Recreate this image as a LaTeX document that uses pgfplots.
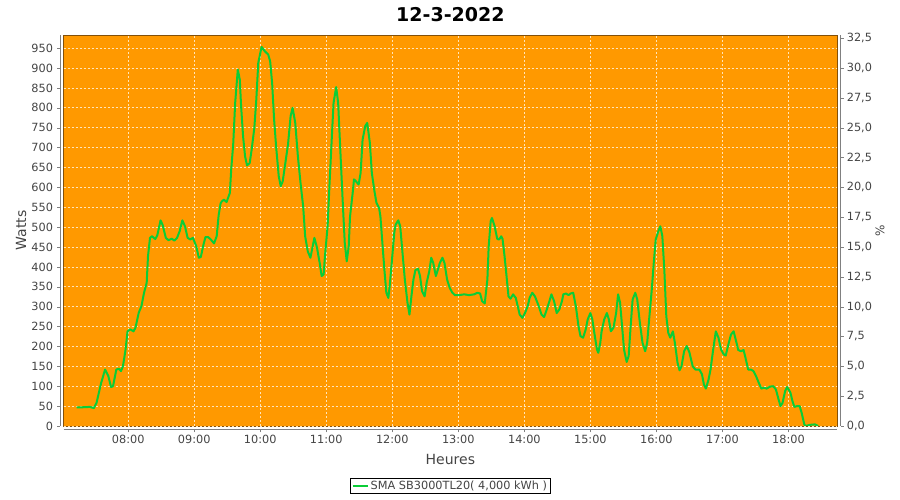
\documentclass[border=0pt]{standalone}
\usepackage{pgfplots}
\pgfplotsset{compat=1.18}
\usepackage{fontspec}
\setmainfont{DejaVu Sans}

\definecolor{plotorange}{RGB}{255,153,0}
\definecolor{plotborder}{RGB}{130,80,10}
\definecolor{linegreen}{RGB}{10,205,55}
\definecolor{axgray}{RGB}{128,128,128}
\definecolor{txtgray}{RGB}{68,68,68}
\definecolor{gridc}{RGB}{255,228,185}

\newcommand{\tickfont}{\fontsize{11.3}{13}\selectfont}

\pgfplotstableread{
h w
7.22 47
7.30 47
7.42 48
7.48 45
7.52 58
7.59 108
7.65 142
7.70 125
7.74 98
7.77 100
7.82 142
7.86 144
7.89 138
7.92 150
7.96 192
7.99 238
8.03 243
8.08 238
8.11 247
8.16 285
8.20 301
8.24 335
8.28 360
8.30 427
8.33 473
8.36 477
8.41 470
8.44 479
8.49 517
8.52 506
8.57 473
8.61 467
8.66 471
8.70 466
8.74 473
8.78 490
8.82 517
8.86 502
8.90 473
8.94 469
8.98 473
9.03 452
9.07 423
9.10 425
9.14 456
9.17 475
9.21 475
9.25 469
9.30 459
9.34 477
9.37 530
9.40 560
9.42 565
9.45 569
9.49 563
9.54 586
9.56 645
9.59 707
9.62 812
9.66 896
9.69 871
9.71 804
9.74 728
9.77 678
9.80 655
9.84 661
9.87 695
9.91 749
9.94 820
9.97 913
10.02 953
10.07 942
10.12 934
10.15 917
10.18 862
10.21 770
10.24 703
10.28 628
10.31 603
10.34 615
10.38 661
10.42 707
10.46 779
10.49 800
10.53 762
10.57 678
10.61 611
10.65 552
10.68 477
10.72 439
10.76 423
10.79 448
10.82 473
10.86 448
10.90 410
10.93 377
10.96 381
10.98 427
11.02 502
11.05 611
11.08 712
11.11 812
11.15 852
11.18 812
11.21 703
11.25 561
11.28 460
11.31 414
11.34 452
11.36 527
11.40 586
11.42 620
11.45 615
11.49 607
11.52 636
11.55 720
11.59 754
11.62 762
11.66 712
11.69 636
11.73 590
11.76 561
11.80 548
11.82 527
11.85 460
11.88 393
11.91 335
11.94 322
11.96 351
12.00 427
12.03 486
12.05 506
12.09 517
12.12 502
12.15 444
12.19 368
12.23 310
12.26 280
12.29 327
12.32 368
12.35 392
12.39 395
12.42 377
12.45 339
12.49 326
12.52 360
12.56 389
12.59 423
12.62 410
12.66 377
12.69 393
12.72 410
12.76 423
12.79 410
12.83 368
12.87 347
12.91 335
12.95 329
13.01 329
13.09 331
13.16 329
13.24 331
13.29 335
13.33 333
13.36 314
13.40 308
13.44 368
13.46 452
13.49 515
13.51 523
13.55 502
13.59 470
13.62 469
13.65 477
13.67 470
13.70 427
13.73 377
13.76 326
13.79 320
13.83 331
13.87 322
13.90 301
13.93 280
13.97 272
14.01 284
14.05 301
14.08 322
14.12 335
14.16 326
14.21 305
14.26 280
14.30 274
14.34 293
14.38 314
14.41 331
14.45 314
14.49 284
14.53 293
14.57 314
14.59 331
14.63 333
14.67 329
14.70 333
14.74 335
14.78 301
14.82 251
14.85 226
14.89 222
14.93 243
14.96 268
15.00 284
15.03 268
15.06 234
15.10 192
15.12 184
15.15 209
15.17 238
15.21 268
15.25 284
15.28 268
15.31 238
15.35 247
15.39 284
15.42 331
15.45 310
15.48 251
15.51 192
15.55 161
15.58 176
15.61 251
15.64 318
15.68 335
15.71 318
15.75 259
15.79 209
15.83 188
15.86 209
15.89 268
15.93 343
15.96 410
15.99 469
16.03 490
16.06 502
16.09 477
16.12 393
16.15 276
16.18 234
16.21 222
16.25 238
16.28 209
16.32 159
16.35 140
16.38 150
16.42 188
16.46 201
16.50 185
16.55 150
16.59 142
16.65 142
16.69 130
16.72 104
16.75 94
16.79 117
16.82 142
16.86 192
16.90 238
16.94 222
16.98 192
17.02 180
17.05 177
17.09 205
17.13 230
17.17 238
17.20 218
17.24 191
17.28 188
17.32 191
17.35 171
17.39 142
17.43 142
17.47 138
17.51 125
17.55 109
17.59 94
17.63 96
17.67 94
17.72 99
17.77 100
17.81 92
17.85 67
17.88 50
17.91 58
17.95 88
17.98 98
18.03 84
18.06 63
18.09 48
18.13 50
18.17 50
18.20 33
18.24 4
18.26 0
18.33 3
18.40 4
18.45 0
}\power

\begin{document}
\begin{tikzpicture}
\useasboundingbox (0,0) rectangle (900pt,500pt);
\begin{axis}[
  at={(63.5pt,74pt)}, anchor=south west,
  scale only axis, width=773.8pt, height=391pt,
  xmin=7.02, xmax=18.74, ymin=0, ymax=983,
  axis background/.style={fill=plotorange, draw=plotborder, line width=0.8pt},
  axis line style={draw=none},
  tick pos=left, tick align=outside, major tick length=3pt,
  xtick={8,9,...,18},
  xticklabels={08:00,09:00,10:00,11:00,12:00,13:00,14:00,15:00,16:00,17:00,18:00},
  ytick={0,50,...,950},
  xtick style={draw=axgray, yshift=-3.5pt},
  ytick style={draw=axgray, xshift=-3.5pt},
  xticklabel style={yshift=-3pt},
  yticklabel style={xshift=-4pt},
  ticklabel style={font=\tickfont, text=txtgray},
  /pgf/number format/assume math mode=true,
  grid=major,
  grid style={draw=gridc, line width=0.6pt, dash pattern=on 2pt off 2pt},
  title={12-3-2022},
  title style={at={(axis description cs:0.5,1.038)}, anchor=center, yshift=0pt,
    font=\bfseries\fontsize{19}{22}\selectfont},
  xlabel={Heures},
  xlabel style={at={(axis description cs:0.5,-0.0857)}, anchor=center,
    font=\fontsize{14}{16}\selectfont, text=txtgray},
  ylabel={Watts},
  ylabel style={at={(axis description cs:-0.0549,0.5)}, anchor=center,
    font=\fontsize{14}{16}\selectfont, text=txtgray},
  legend style={at={(axis description cs:0.5,-0.133)}, anchor=north,
    draw=black, line width=0.7pt, inner xsep=1pt, inner ysep=0.5pt,
    font=\tickfont, text=txtgray},
  legend image code/.code={\draw[#1] (0pt,0pt) -- (15pt,0pt);},
]
\addplot[linegreen, line width=2pt, line join=round] table[x=h, y=w] {\power};
\addlegendentry{SMA SB3000TL20( 4,000 kWh )}
\end{axis}
\begin{axis}[
  at={(63.5pt,74pt)}, anchor=south west,
  scale only axis, width=773.8pt, height=391pt,
  xmin=7.02, xmax=18.74, ymin=0, ymax=32.767,
  axis x line=none,
  axis y line*=right,
  axis line style={draw=none},
  tick align=outside, major tick length=3pt,
  ytick={0,2.5,...,32.5},
  ytick style={draw=axgray, xshift=3.5pt},
  yticklabel style={xshift=3pt, font=\tickfont, text=txtgray},
  /pgf/number format/.cd, fixed, fixed zerofill, precision=1, use comma, assume math mode=true,
  /pgfplots/.cd,
  ylabel={\%},
  ylabel style={at={(axis description cs:1.0552,0.5)}, anchor=center,
    font=\fontsize{12}{14}\selectfont, text=txtgray},
]
\addplot[draw=none] coordinates {(8,0)};
\end{axis}
\draw[axgray, line width=0.8pt] ([xshift=-3.5pt]current axis.south west) -- ([xshift=-3.5pt]current axis.north west);
\draw[axgray, line width=0.8pt] ([yshift=-3.5pt]current axis.south west) -- ([yshift=-3.5pt]current axis.south east);
\draw[axgray, line width=0.8pt] ([xshift=3.5pt]current axis.south east) -- ([xshift=3.5pt]current axis.north east);
\end{tikzpicture}
\end{document}
